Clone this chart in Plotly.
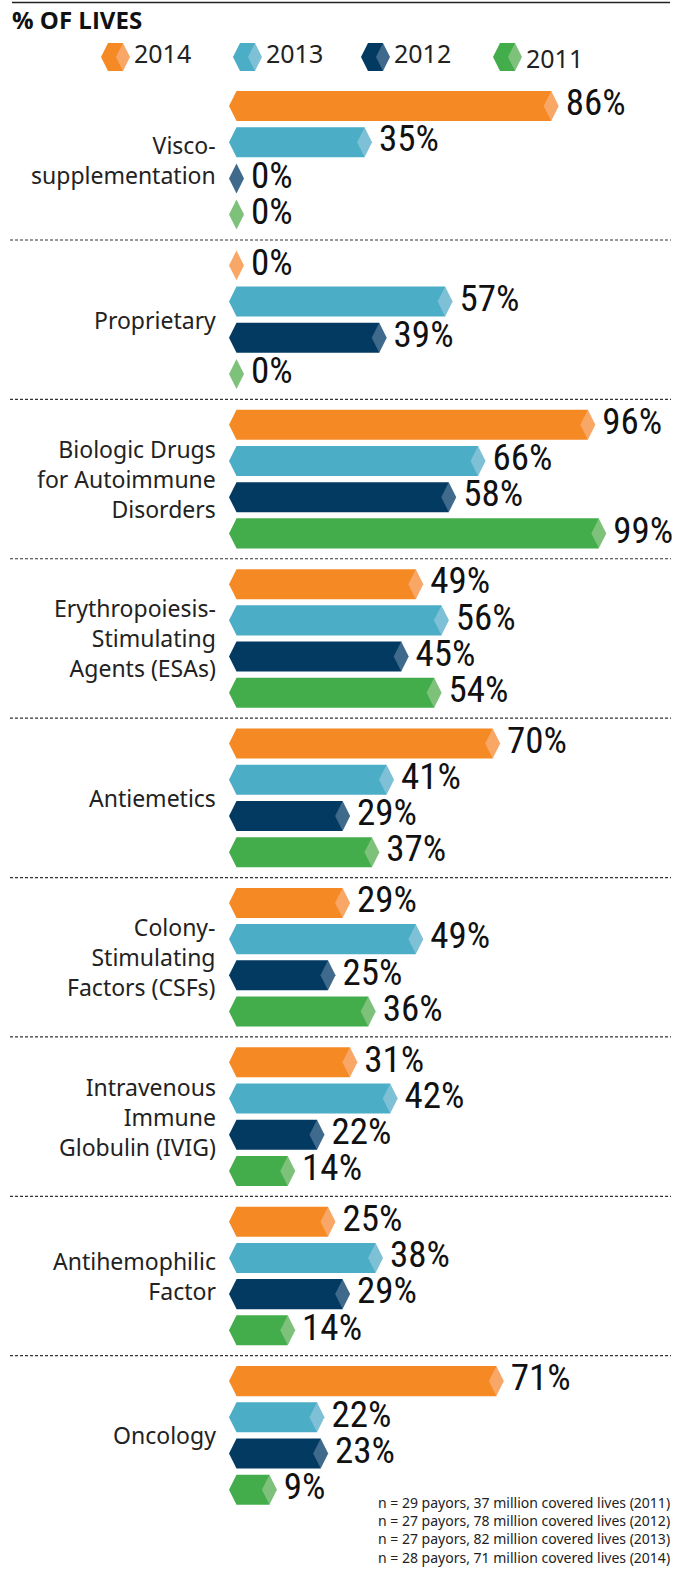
import plotly.graph_objects as go

# ---------------- data ----------------
title = "% OF LIVES"
categories = [
    "Visco-<br>supplementation",
    "Proprietary",
    "Biologic Drugs<br>for Autoimmune<br>Disorders",
    "Erythropoiesis-<br>Stimulating<br>Agents (ESAs)",
    "Antiemetics",
    "Colony-<br>Stimulating<br>Factors (CSFs)",
    "Intravenous<br>Immune<br>Globulin (IVIG)",
    "Antihemophilic<br>Factor",
    "Oncology",
]
years = ["2014", "2013", "2012", "2011"]
v2014 = [86, 0, 96, 49, 70, 29, 31, 25, 71]
v2013 = [35, 57, 66, 56, 41, 49, 42, 38, 22]
v2012 = [0, 39, 58, 45, 29, 25, 22, 29, 23]
v2011 = [0, 0, 99, 54, 37, 36, 14, 14, 9]
footnotes = [
    "n = 29 payors, 37 million covered lives (2011)",
    "n = 27 payors, 78 million covered lives (2012)",
    "n = 27 payors, 82 million covered lives (2013)",
    "n = 28 payors, 71 million covered lives (2014)",
]

# ---------------- styles / layout ----------------
series = [v2014, v2013, v2012, v2011]
dark = ["#F58A25", "#4BADC6", "#033A62", "#43AD4B"]
light = ["#F9A766", "#7EC0D5", "#3F6A8C", "#7DC17B"]
GROUP = 4.403       # stride between category groups (in bar slots)
BAR_W = 0.83
DIA = 21.4
NUM_FONT = dict(family="Roboto Condensed, DejaVu Sans Condensed, sans-serif", size=37, color="#111111")
LBL_FONT = dict(family="Noto Sans, Open Sans, sans-serif", size=23, color="#222222")

W, H = 684, 1574
PXU_X = 3.66        # pixels per percent
X0 = 236.5          # pixel of 0 %
PXU_Y = 36.2        # pixels per bar slot
Y0 = 106            # pixel of first slot


def px(p):
    return p / W


def py(p):
    return 1 - p / H


fig = go.Figure()

for k, vals in enumerate(series):
    ys = [i * GROUP + k for i in range(len(vals))]
    fig.add_trace(go.Bar(
        x=vals, y=ys, base=0, orientation="h", width=BAR_W,
        marker=dict(color=dark[k], line=dict(width=0)), hoverinfo="skip",
    ))
    nz_y = [y for y, v in zip(ys, vals) if v > 0]
    fig.add_trace(go.Scatter(
        x=[0] * len(nz_y), y=nz_y, mode="markers",
        marker=dict(symbol="diamond-tall", size=DIA, color=dark[k], line=dict(width=0)),
        hoverinfo="skip", cliponaxis=False,
    ))
    fig.add_trace(go.Scatter(
        x=vals, y=ys, mode="markers+text",
        text=[f"{v}%" for v in vals], textposition="middle right",
        textfont=NUM_FONT,
        marker=dict(symbol="diamond-tall", size=DIA, color=light[k], line=dict(width=0)),
        hoverinfo="skip", cliponaxis=False,
    ))

# ---------------- legend (page-pixel overlay axes) ----------------
leg_x = [108, 240, 368, 500]
leg_iy = 57
leg_ty = [57, 57, 57, 62]
for k, yr in enumerate(years):
    fig.add_trace(go.Bar(
        x=[15], y=[leg_iy], base=leg_x[k], orientation="h", width=28,
        marker=dict(color=dark[k], line=dict(width=0)),
        xaxis="x2", yaxis="y2", hoverinfo="skip",
    ))
    fig.add_trace(go.Scatter(
        x=[leg_x[k]], y=[leg_iy], mode="markers",
        marker=dict(symbol="diamond-tall", size=20, color=dark[k], line=dict(width=0)),
        xaxis="x2", yaxis="y2", hoverinfo="skip", cliponaxis=False,
    ))
    fig.add_trace(go.Scatter(
        x=[leg_x[k] + 15], y=[leg_iy], mode="markers",
        marker=dict(symbol="diamond-tall", size=20, color=light[k], line=dict(width=0)),
        xaxis="x2", yaxis="y2", hoverinfo="skip", cliponaxis=False,
    ))
    fig.add_trace(go.Scatter(
        x=[leg_x[k] + 26], y=[leg_ty[k]], mode="text", text=[yr],
        textposition="middle right",
        textfont=dict(family="Noto Sans, Open Sans, sans-serif", size=25, color="#222222"),
        xaxis="x2", yaxis="y2", hoverinfo="skip", cliponaxis=False,
    ))

shapes = []
annotations = []
n = len(categories)
for i in range(n - 1):
    yd = i * GROUP + 3 + (GROUP - 3) / 2
    shapes.append(dict(type="line", xref="paper", yref="y", x0=px(10), x1=px(671),
                       y0=yd, y1=yd, line=dict(color="#333333", width=1.2, dash="3px,2px")))
shapes.append(dict(type="line", xref="paper", yref="paper", x0=px(12), x1=px(670),
                   y0=py(2.5), y1=py(2.5), line=dict(color="#222222", width=1.5)))

for i, c in enumerate(categories):
    annotations.append(dict(
        x=px(218), xref="paper", xanchor="right", y=i * GROUP + 1.5, yref="y",
        yanchor="middle", text=c, showarrow=False, align="right", font=LBL_FONT,
    ))

annotations.append(dict(
    x=px(10), xref="paper", xanchor="left", y=py(19), yref="paper", yanchor="middle",
    text="<b>" + title + "</b>", showarrow=False,
    font=dict(family="Open Sans, Noto Sans, sans-serif", size=24, color="#111111"),
))
annotations.append(dict(
    x=px(672), xref="paper", xanchor="right", y=py(1530), yref="paper", yanchor="middle",
    text="<br>".join(footnotes), showarrow=False, align="right",
    font=dict(family="Noto Sans, Open Sans, sans-serif", size=14, color="#222222"),
))

fig.update_layout(
    width=W, height=H,
    margin=dict(l=0, r=0, t=0, b=0),
    paper_bgcolor="white", plot_bgcolor="white",
    showlegend=False, barmode="overlay",
    xaxis=dict(range=[-X0 / PXU_X, (W - X0) / PXU_X], visible=False, fixedrange=True),
    yaxis=dict(range=[(H - Y0) / PXU_Y, -Y0 / PXU_Y], visible=False, fixedrange=True),
    xaxis2=dict(range=[0, W], overlaying="x", visible=False, fixedrange=True),
    yaxis2=dict(range=[H, 0], overlaying="y", visible=False, fixedrange=True),
    shapes=shapes, annotations=annotations,
)

fig.write_html("out.html", config={"displayModeBar": False},
               post_script="document.body.style.margin='0px';document.body.style.overflow='hidden';")
